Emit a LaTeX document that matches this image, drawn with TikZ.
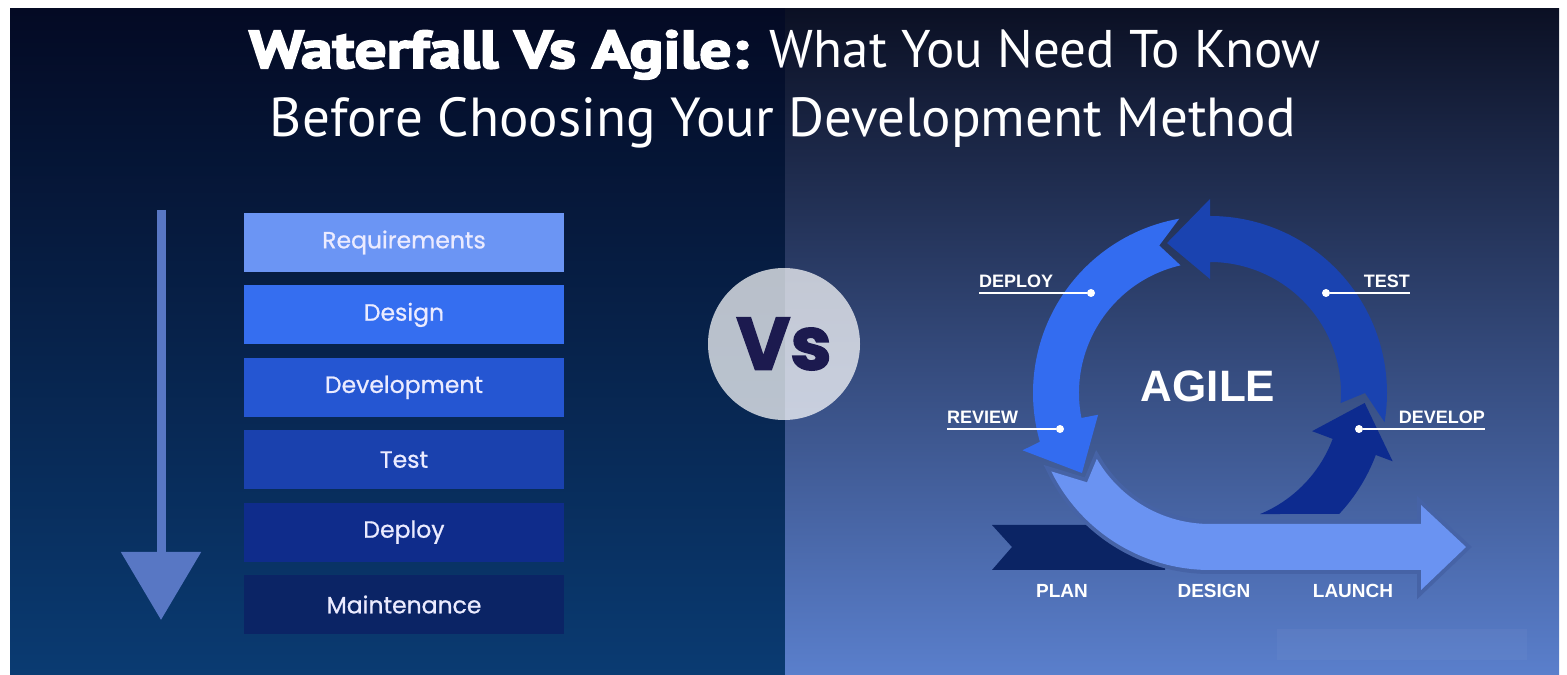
\documentclass[tikz,border=0pt]{standalone}
\usepackage{fontspec}
\usetikzlibrary{positioning,arrows.meta}
\newfontfamily\poppins{Poppins}
\newfontfamily\poppinsm[FakeBold=0.8]{Poppins}
\newfontfamily\ptsans{PT Sans}
\newfontfamily\heavy[FakeStretch=1.2, BoldFeatures={FakeBold=3.5}]{PT Sans}
\newfontfamily\vsfont[BoldFeatures={FakeBold=2}]{Poppins}
\newfontfamily\arialb{Liberation Sans}
\definecolor{bgLtop}{HTML}{040A24}
\definecolor{bgLmid}{HTML}{061F48}
\definecolor{bgLbot}{HTML}{0A3B72}
\definecolor{bgRtop}{HTML}{0B1024}
\definecolor{bgRmid}{HTML}{2C3C6C}
\definecolor{bgRbot}{HTML}{5A7FCC}
\definecolor{reqc}{HTML}{6B95F4}
\definecolor{desgc}{HTML}{356EF0}
\definecolor{devlc}{HTML}{2556D2}
\definecolor{testc}{HTML}{1A41AE}
\definecolor{deplc}{HTML}{0F2C8B}
\definecolor{maintc}{HTML}{0B2465}
\definecolor{wfc}{HTML}{5877C4}
\definecolor{vstext}{HTML}{1C1A4F}
\definecolor{ringDeploy}{HTML}{336CF0}
\definecolor{ringTest}{HTML}{1A43B0}
\definecolor{ringDevelop}{HTML}{0D2B8F}
\definecolor{ringDesign}{HTML}{6A93F2}
\definecolor{ringPlan}{HTML}{0B2464}
\definecolor{gapc}{HTML}{4663A6}
\begin{document}
\begin{tikzpicture}[x=1pt,y=1pt,
    phase/.style ={fill=#1, minimum width=320pt, minimum height=59pt, inner sep=0pt,
      text=white!92!blue, font=\poppinsm\fontsize{23.5}{23.5}\selectfont},
    wfarrow/.style ={line width=9pt, wfc, -{Triangle[length=68pt,width=78pt]}},
    ringlbl/.style ={inner xsep=0pt, inner ysep=5pt, text=white, font=\arialb\bfseries\fontsize{18}{18}\selectfont},
    steplbl/.style ={inner sep=0pt, text=white, font=\arialb\bfseries\fontsize{19}{19}\selectfont},
    leader/.style ={white, line width=1.6pt},
    pin/.style ={circle, fill=white, inner sep=0pt, minimum size=8pt}]
   \useasboundingbox (0,0) rectangle (1567,675);
   % backgrounds
   \fill[top color=bgLtop, middle color=bgLmid, bottom color=bgLbot] (10,0) rectangle (785,666);
   \fill[top color=bgRtop, middle color=bgRmid, bottom color=bgRbot] (785,0) rectangle (1559,666);
   \fill[white, opacity=0.035] (1277,15) rectangle (1527,46);
   % title
   \node[anchor=base, text=white, font=\fontsize{53}{60}\selectfont] (title1) at (785,607)
     {{\heavy\bfseries Waterfall Vs Agile:} {\ptsans What You Need To Know}};
   \node[anchor=base, text=white, font=\ptsans\fontsize{55}{60}\selectfont] (title2) at (783,538)
     {Before Choosing Your Development Method};
   % waterfall
   \coordinate (wfTop) at (161,465);
   \coordinate (wfTip) at (161,55);
   \draw[wfarrow] (wfTop) -- (wfTip);
   \node[phase=reqc] (req) at (404,432.5) {Requirements};
   \node[phase=desgc, below=13pt of req] (desg) {Design};
   \node[phase=devlc, below=13pt of desg] (devl) {Development};
   \node[phase=testc, below=13pt of devl] (test) {Test};
   \node[phase=deplc, below=13pt of test] (depl) {Deploy};
   \node[phase=maintc, below=13pt of depl] (maint) {Maintenance};
   % vs
   \node[circle, fill=white, fill opacity=0.72, text opacity=1, minimum size=152pt, inner sep=0pt,
     text=vstext, font=\vsfont\bfseries\fontsize{74}{74}\selectfont] (vs) at (784,331) {Vs};
   % agile cycle
   \begin{scope}[shift={(1210,282)}]
     \fill[ringPlan] (-218,-132) -- (-198,-154) -- (-218,-177) -- (-45,-177) -- (-45,-132) -- cycle;
     \fill[ringTest] (-9.5:177) arc[start angle=-9.5, end angle=90, radius=177] -- (90:194) -- (106:156)
       -- (90:114) -- (90:131) arc[start angle=90, end angle=-4.4, radius=131] -- (0:155) -- cycle;
     \fill[ringDevelop] (-43.1:177) arc[start angle=-43.1, end angle=-20.5, radius=177] -- (-20.5:195)
       -- (-3.7:155) -- (-20.5:109) -- (-20.5:131) arc[start angle=-20.5, end angle=-67.5, radius=131] -- cycle;
     \fill[ringDeploy] (100:177) arc[start angle=100, end angle=196, radius=177] -- (197:196) -- (212:151)
       -- (191:114) -- (191:131) arc[start angle=191, end angle=103, radius=131] -- (109:156) -- cycle;
     \fill[ringDesign, preaction={draw=gapc, line width=8pt}] (206.3:177) arc[start angle=206.3, end angle=270, radius=177]
       -- (211,-177) -- (211,-197) -- (256,-154) -- (211,-112) -- (211,-131) -- (0,-131)
       arc[start angle=270, end angle=210.2, radius=131] -- (216:152) -- cycle;
   \end{scope}
   \node[text=white, font=\arialb\bfseries\fontsize{44}{44}\selectfont] (agile) at (1208,289) {AGILE};
   % labels
   \node[ringlbl, anchor=south west] (deployLbl) at (979,382) {DEPLOY};
   \node[pin] (deployDot) at (1091,382) {};
   \draw[leader] (deployLbl.south west) -- (deployDot);
   \node[ringlbl, anchor=south east] (testLbl) at (1410,382) {TEST};
   \node[pin] (testDot) at (1326,382) {};
   \draw[leader] (testDot) -- (testLbl.south east);
   \node[ringlbl, anchor=south west] (reviewLbl) at (947,246) {REVIEW};
   \node[pin] (reviewDot) at (1060,246) {};
   \draw[leader] (reviewLbl.south west) -- (reviewDot);
   \node[ringlbl, anchor=south east] (developLbl) at (1485,246) {DEVELOP};
   \node[pin] (developDot) at (1359,246) {};
   \draw[leader] (developDot) -- (developLbl.south east);
   \node[steplbl, anchor=base] (plan) at (1062,77) {PLAN};
   \node[steplbl, anchor=base] (design) at (1214,77) {DESIGN};
   \node[steplbl, anchor=base] (launch) at (1353,77) {LAUNCH};
 \end{tikzpicture}
\end{document}
